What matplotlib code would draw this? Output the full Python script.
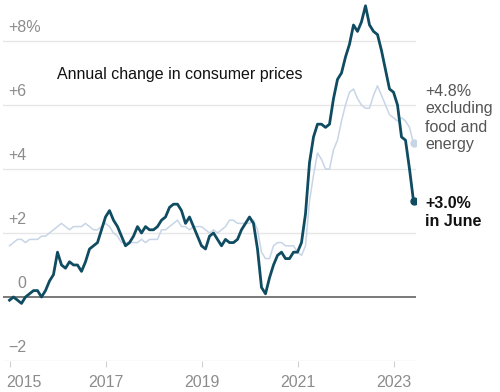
import numpy as np
import matplotlib
matplotlib.use('Agg')
import matplotlib.pyplot as plt
from matplotlib.transforms import ScaledTranslation

# Monthly year-over-year change, Jan 2015 - Jun 2023
headline = [
    -0.1, 0.0, -0.1, -0.2, 0.0, 0.1, 0.2, 0.2, 0.0, 0.2, 0.5, 0.7,
    1.4, 1.0, 0.9, 1.1, 1.0, 1.0, 0.8, 1.1, 1.5, 1.6, 1.7, 2.1,
    2.5, 2.7, 2.4, 2.2, 1.9, 1.6, 1.7, 1.9, 2.2, 2.0, 2.2, 2.1,
    2.1, 2.2, 2.4, 2.5, 2.8, 2.9, 2.9, 2.7, 2.3, 2.5, 2.2, 1.9,
    1.6, 1.5, 1.9, 2.0, 1.8, 1.6, 1.8, 1.7, 1.7, 1.8, 2.1, 2.3,
    2.5, 2.3, 1.5, 0.3, 0.1, 0.6, 1.0, 1.3, 1.4, 1.2, 1.2, 1.4,
    1.4, 1.7, 2.6, 4.2, 5.0, 5.4, 5.4, 5.3, 5.4, 6.2, 6.8, 7.0,
    7.5, 7.9, 8.5, 8.3, 8.6, 9.1, 8.5, 8.3, 8.2, 7.7, 7.1, 6.5,
    6.4, 6.0, 5.0, 4.9, 4.0, 3.0,
]
core = [
    1.6, 1.7, 1.8, 1.8, 1.7, 1.8, 1.8, 1.8, 1.9, 1.9, 2.0, 2.1,
    2.2, 2.3, 2.2, 2.1, 2.2, 2.2, 2.2, 2.3, 2.2, 2.1, 2.1, 2.2,
    2.3, 2.2, 2.0, 1.9, 1.7, 1.7, 1.7, 1.7, 1.7, 1.8, 1.7, 1.8,
    1.8, 1.8, 2.1, 2.1, 2.2, 2.3, 2.4, 2.2, 2.2, 2.1, 2.2, 2.2,
    2.2, 2.1, 2.0, 2.1, 2.0, 2.1, 2.2, 2.4, 2.4, 2.3, 2.3, 2.3,
    2.3, 2.4, 2.1, 1.4, 1.2, 1.2, 1.6, 1.7, 1.7, 1.6, 1.6, 1.6,
    1.4, 1.3, 1.6, 3.0, 3.8, 4.5, 4.3, 4.0, 4.0, 4.6, 4.9, 5.5,
    6.0, 6.4, 6.5, 6.2, 6.0, 5.9, 5.9, 6.3, 6.6, 6.3, 6.0, 5.7,
    5.6, 5.5, 5.6, 5.5, 5.3, 4.8,
]
start_year = 2015
year_ticks = [2015, 2017, 2019, 2021, 2023]
y_ticks = [-2, 0, 2, 4, 6, 8]
y_labels = ['\u22122', '0', '+2', '+4', '+6', '+8%']

DARK = '#0f4c62'
LIGHT = '#c7d5e6'
GRID = '#e6e6e6'
TICK = '#8c8c8c'

plt.rcParams['font.family'] = ['Liberation Sans', 'DejaVu Sans']

x = start_year + np.arange(len(headline)) / 12.0

fig = plt.figure(figsize=(5.0, 3.92), dpi=100)
ax = fig.add_axes([0.006, 0.0791, 0.826, 0.9143])
ax.set_xlim(start_year - 6.5 / 48, start_year + 406.5 / 48)
ax.set_ylim(-2, 9.2)

for v in y_ticks:
    if v == 0:
        ax.axhline(0, color='#555555', lw=1.1, zorder=3)
    else:
        ax.axhline(v, color=GRID, lw=1.0, zorder=0)

ax.plot(x, core, color=LIGHT, lw=1.1, zorder=2, solid_joinstyle='round')
ax.plot(x, headline, color=DARK, lw=2.0, zorder=4, solid_joinstyle='round')
ax.plot(x[-1], core[-1], 'o', color=LIGHT, ms=5, zorder=5)
ax.plot(x[-1], headline[-1], 'o', color=DARK, ms=5, zorder=5)

for s in ax.spines.values():
    s.set_visible(False)
ax.set_yticks([])
ax.set_xticks(year_ticks)
ax.set_xticklabels([str(y) for y in year_ticks], fontsize=11.5, color=TICK)
ax.tick_params(axis='x', length=4, color='#d0d0d0', pad=6)
# first year label sits just right of the left edge
first = ax.get_xticklabels()[0]
first.set_ha('left')
first.set_transform(first.get_transform() + ScaledTranslation(-3.5 / 100, 0, fig.dpi_scale_trans))

for v, lab in zip(y_ticks, y_labels):
    dx = 10.7 if v == 0 else 4
    ax.annotate(lab, xy=(0, v), xycoords=('axes fraction', 'data'),
                xytext=(dx, 4), textcoords='offset points',
                fontsize=11.5, color=TICK, ha='left', va='bottom')

fig.text(57 / 500, 1 - 74 / 392, 'Annual change in consumer prices',
         fontsize=11.5, color='#111111', ha='left', va='center')

fig.text(425 / 500, 1 - 118 / 392, '+4.8%\nexcluding\nfood and\nenergy',
         fontsize=11.5, color='#555555', ha='left', va='center',
         linespacing=1.25)
fig.text(425 / 500, 1 - 212 / 392, '+3.0%\nin June',
         fontsize=11.5, color='#111111', fontweight='bold',
         ha='left', va='center', linespacing=1.25)

fig.savefig('out.png', dpi=100)
